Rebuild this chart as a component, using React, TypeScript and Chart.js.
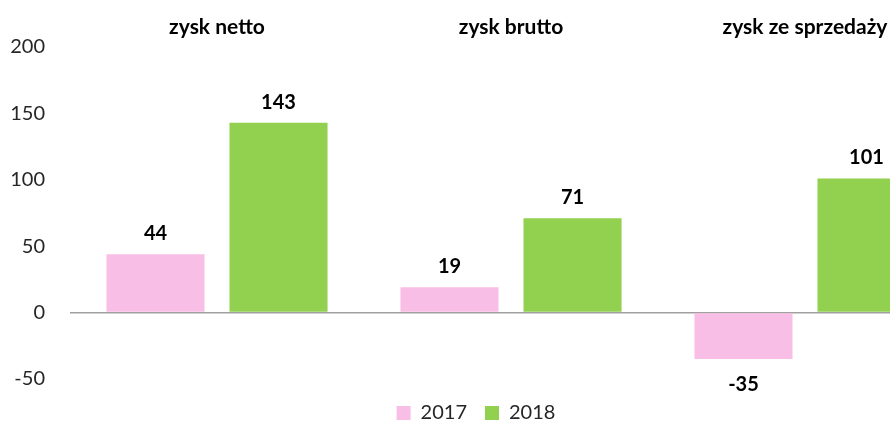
import React, { useEffect, useRef } from "react";
import { Chart, registerables } from "chart.js";

Chart.register(...registerables);

const categories = ["zysk netto", "zysk brutto", "zysk ze sprzedaży"];
const series2017 = [44, 19, -35];
const series2018 = [143, 71, 101];
const seriesLabels = ["2017", "2018"];
const yTicks = [-50, 0, 50, 100, 150, 200];

const FONT = "Lato, 'Open Sans', sans-serif";

const valueLabels = {
  id: "valueLabels",
  afterDatasetsDraw(chart: any) {
    const ctx = chart.ctx;
    ctx.save();
    ctx.font = `bold 20px ${FONT}`;
    ctx.fillStyle = "#000";
    ctx.textAlign = "center";
    ctx.textBaseline = "alphabetic";
    chart.data.datasets.forEach((ds: any, di: number) => {
      const meta = chart.getDatasetMeta(di);
      meta.data.forEach((el: any, i: number) => {
        const v = ds.data[i];
        const y = v >= 0 ? el.y - 14 : el.y + 32;
        ctx.fillText(String(v), el.x, y);
      });
    });
    ctx.restore();
  },
};

const legendTweak = {
  id: "legendTweak",
  beforeLayout(chart: any) {
    const lg = chart.legend;
    if (lg && !lg._tweaked) {
      lg._tweaked = true;
      const fit = lg.fit.bind(lg);
      lg.fit = function () {
        fit();
        this.height = 46;
      };
      const draw = lg.draw.bind(lg);
      lg.draw = function () {
        const ctx = chart.ctx;
        ctx.save();
        ctx.translate(0, 6);
        draw();
        ctx.restore();
      };
    }
  },
};

export default function App() {
  const ref = useRef<HTMLCanvasElement | null>(null);
  useEffect(() => {
    if (!ref.current) return;
    const chart = new Chart(ref.current, {
      type: "bar",
      data: {
        labels: categories,
        datasets: [
          { label: seriesLabels[0], data: series2017, backgroundColor: "#F9BEE5" },
          { label: seriesLabels[1], data: series2018, backgroundColor: "#92D050" },
        ],
      },
      plugins: [valueLabels, legendTweak],
      options: {
        responsive: false,
        animation: false,
        layout: { padding: { top: 0, right: 0, bottom: 0, left: 0 } },
        datasets: {
          bar: { categoryPercentage: 0.837, barPercentage: 0.797 },
        },
        plugins: {
          tooltip: { enabled: false },
          legend: {
            position: "bottom",
            labels: {
              font: { family: FONT, size: 20 },
              color: "#262626",
              boxWidth: 14,
              boxHeight: 14,
              padding: 18,
            },
          },
        },
        scales: {
          x: {
            position: "top",
            grid: { display: false },
            border: { display: false },
            ticks: {
              font: { family: FONT, size: 21, weight: "bold" },
              color: "#000",
              padding: -1,
            },
            afterFit(scale: any) {
              scale.height = 47;
            },
          },
          y: {
            min: -50,
            max: 200,
            afterBuildTicks(scale: any) {
              scale.ticks = yTicks.map((v) => ({ value: v }));
            },
            grid: {
              drawTicks: false,
              color: (c: any) => (c.tick && c.tick.value === 0 ? "#A0A0A0" : "rgba(0,0,0,0)"),
              lineWidth: 1.5,
            },
            border: { display: false },
            ticks: {
              font: { family: FONT, size: 20 },
              color: "#262626",
              padding: 25,
            },
            afterFit(scale: any) {
              scale.width = 70;
            },
          },
        },
      } as any,
    });
    return () => chart.destroy();
  }, []);
  return (
    <div
      style={{
        position: "fixed",
        left: 0,
        top: 0,
        width: 890,
        height: 425,
        overflow: "hidden",
        background: "#fff",
      }}
    >
      <canvas ref={ref} width={952} height={425} style={{ display: "block" }} />
    </div>
  );
}
